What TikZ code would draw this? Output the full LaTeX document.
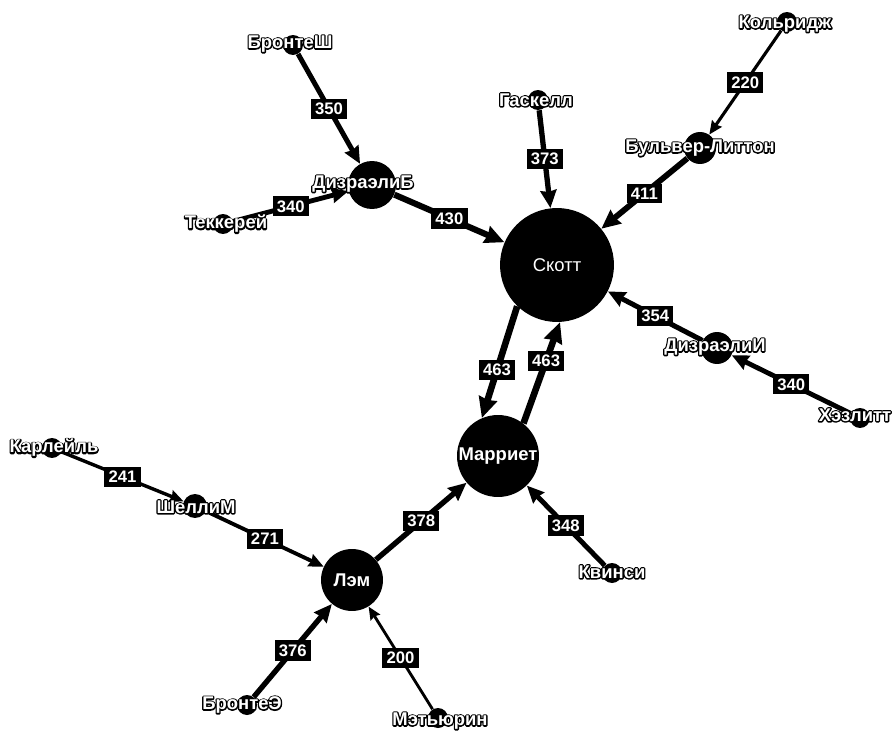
\documentclass[tikz,border=0pt]{standalone}
\usepackage{fontspec}
\setmainfont{Liberation Sans}
\usetikzlibrary{arrows.meta,backgrounds}
\newcommand\halo[1]{\rlap{\special{pdf:literal direct 1 Tr 1.5 w 1 j 0 G}#1\special{pdf:literal direct 0 Tr}}#1}

\begin{document}
\begin{tikzpicture}[
  x=0.02cm, y=-0.02cm,
  font=\bfseries\fontsize{10.5}{12}\selectfont,
  blob/.style={circle, fill=black, inner sep=0pt, minimum size=#1*0.04cm},
  nm/.style={text=white, inner sep=0pt},
  num/.style={fill=black, text=white, inner sep=2.4pt,
              font=\bfseries\fontsize{9.5}{10}\selectfont},
  flow/.style={draw=black, line width=#1*0.0081pt,
               -{Stealth[length=4pt 2, width=3pt 2, inset=0.8pt]}}
]
\useasboundingbox (0,0) rectangle (892,733);

% hubs
\node[blob=57] (sc)   at (557,265) {};
\node[blob=41] (mar)  at (498,456) {};
\node[blob=31] (lam)  at (352,580) {};
\node[blob=24] (disb) at (372,185) {};
\node[blob=16] (bul)  at (700,148) {};
\node[blob=16] (disi) at (717,348) {};
% leaves
\node[blob=10] (brs) at (293,45)  {};
\node[blob=10] (tek) at (223,224) {};
\node[blob=10] (gas) at (538,100) {};
\node[blob=10] (kol) at (787,22)  {};
\node[blob=10] (haz) at (860,418) {};
\node[blob=10] (kar) at (52,448)  {};
\node[blob=12] (she) at (195,506) {};
\node[blob=10] (kvi) at (612,573) {};
\node[blob=10] (bre) at (247,705) {};
\node[blob=10] (met) at (438,718) {};

% names
\node[nm] at (sc)  {\mdseries Скотт};
\node[nm] at (mar) {\halo{Марриет}};
\node[nm] at (lam) {\halo{Лэм}};
\node[nm] at (363,184) {\halo{ДизраэлиБ}};
\node[nm] at (bul) {\halo{Бульвер-Литтон}};
\node[nm] at (715,347) {\halo{ДизраэлиИ}};
\node[nm] at (290,44)  {\halo{БронтеШ}};
\node[nm] at (226,224) {\halo{Теккерей}};
\node[nm] at (536,100) {\halo{Гаскелл}};
\node[nm] at (785,24)  {\halo{Кольридж}};
\node[nm] at (855,415) {\halo{Хэзлитт}};
\node[nm] at (54,448)  {\halo{Карлейль}};
\node[nm] at (196,507) {\halo{ШеллиМ}};
\node[nm] at (612,572) {\halo{Квинси}};
\node[nm] at (242,705) {\halo{БронтеЭ}};
\node[nm] at (440,721) {\halo{Мэтьюрин}};

\begin{scope}[on background layer]
\draw[flow=350] (brs) -- node[num] {350} (disb);
\draw[flow=340] (tek) -- node[num] {340} (disb);
\draw[flow=430] (disb) -- node[num] {430} (sc);
\draw[flow=373] (gas) -- node[num] {373} (sc);
\draw[flow=220] (kol) -- node[num] {220} (bul);
\draw[flow=411] (bul) -- node[num] {411} (sc);
\draw[flow=354] (disi) -- node[num] {354} (sc);
\draw[flow=340] (haz) -- node[num] {340} (disi);
\draw[flow=463] (sc.226) -- node[num, pos=0.57] {463} (mar.113);
\draw[flow=463] (mar.52) -- node[num, pos=0.62] {463} (sc.273);
\draw[flow=241] (kar) -- node[num] {241} (she);
\draw[flow=271] (she) -- node[num] {271} (lam);
\draw[flow=378] (lam) -- node[num] {378} (mar);
\draw[flow=348] (kvi) -- node[num] {348} (mar);
\draw[flow=376] (bre) -- node[num] {376} (lam);
\draw[flow=200] (met) -- node[num] {200} (lam);
\end{scope}
\end{tikzpicture}
\end{document}
